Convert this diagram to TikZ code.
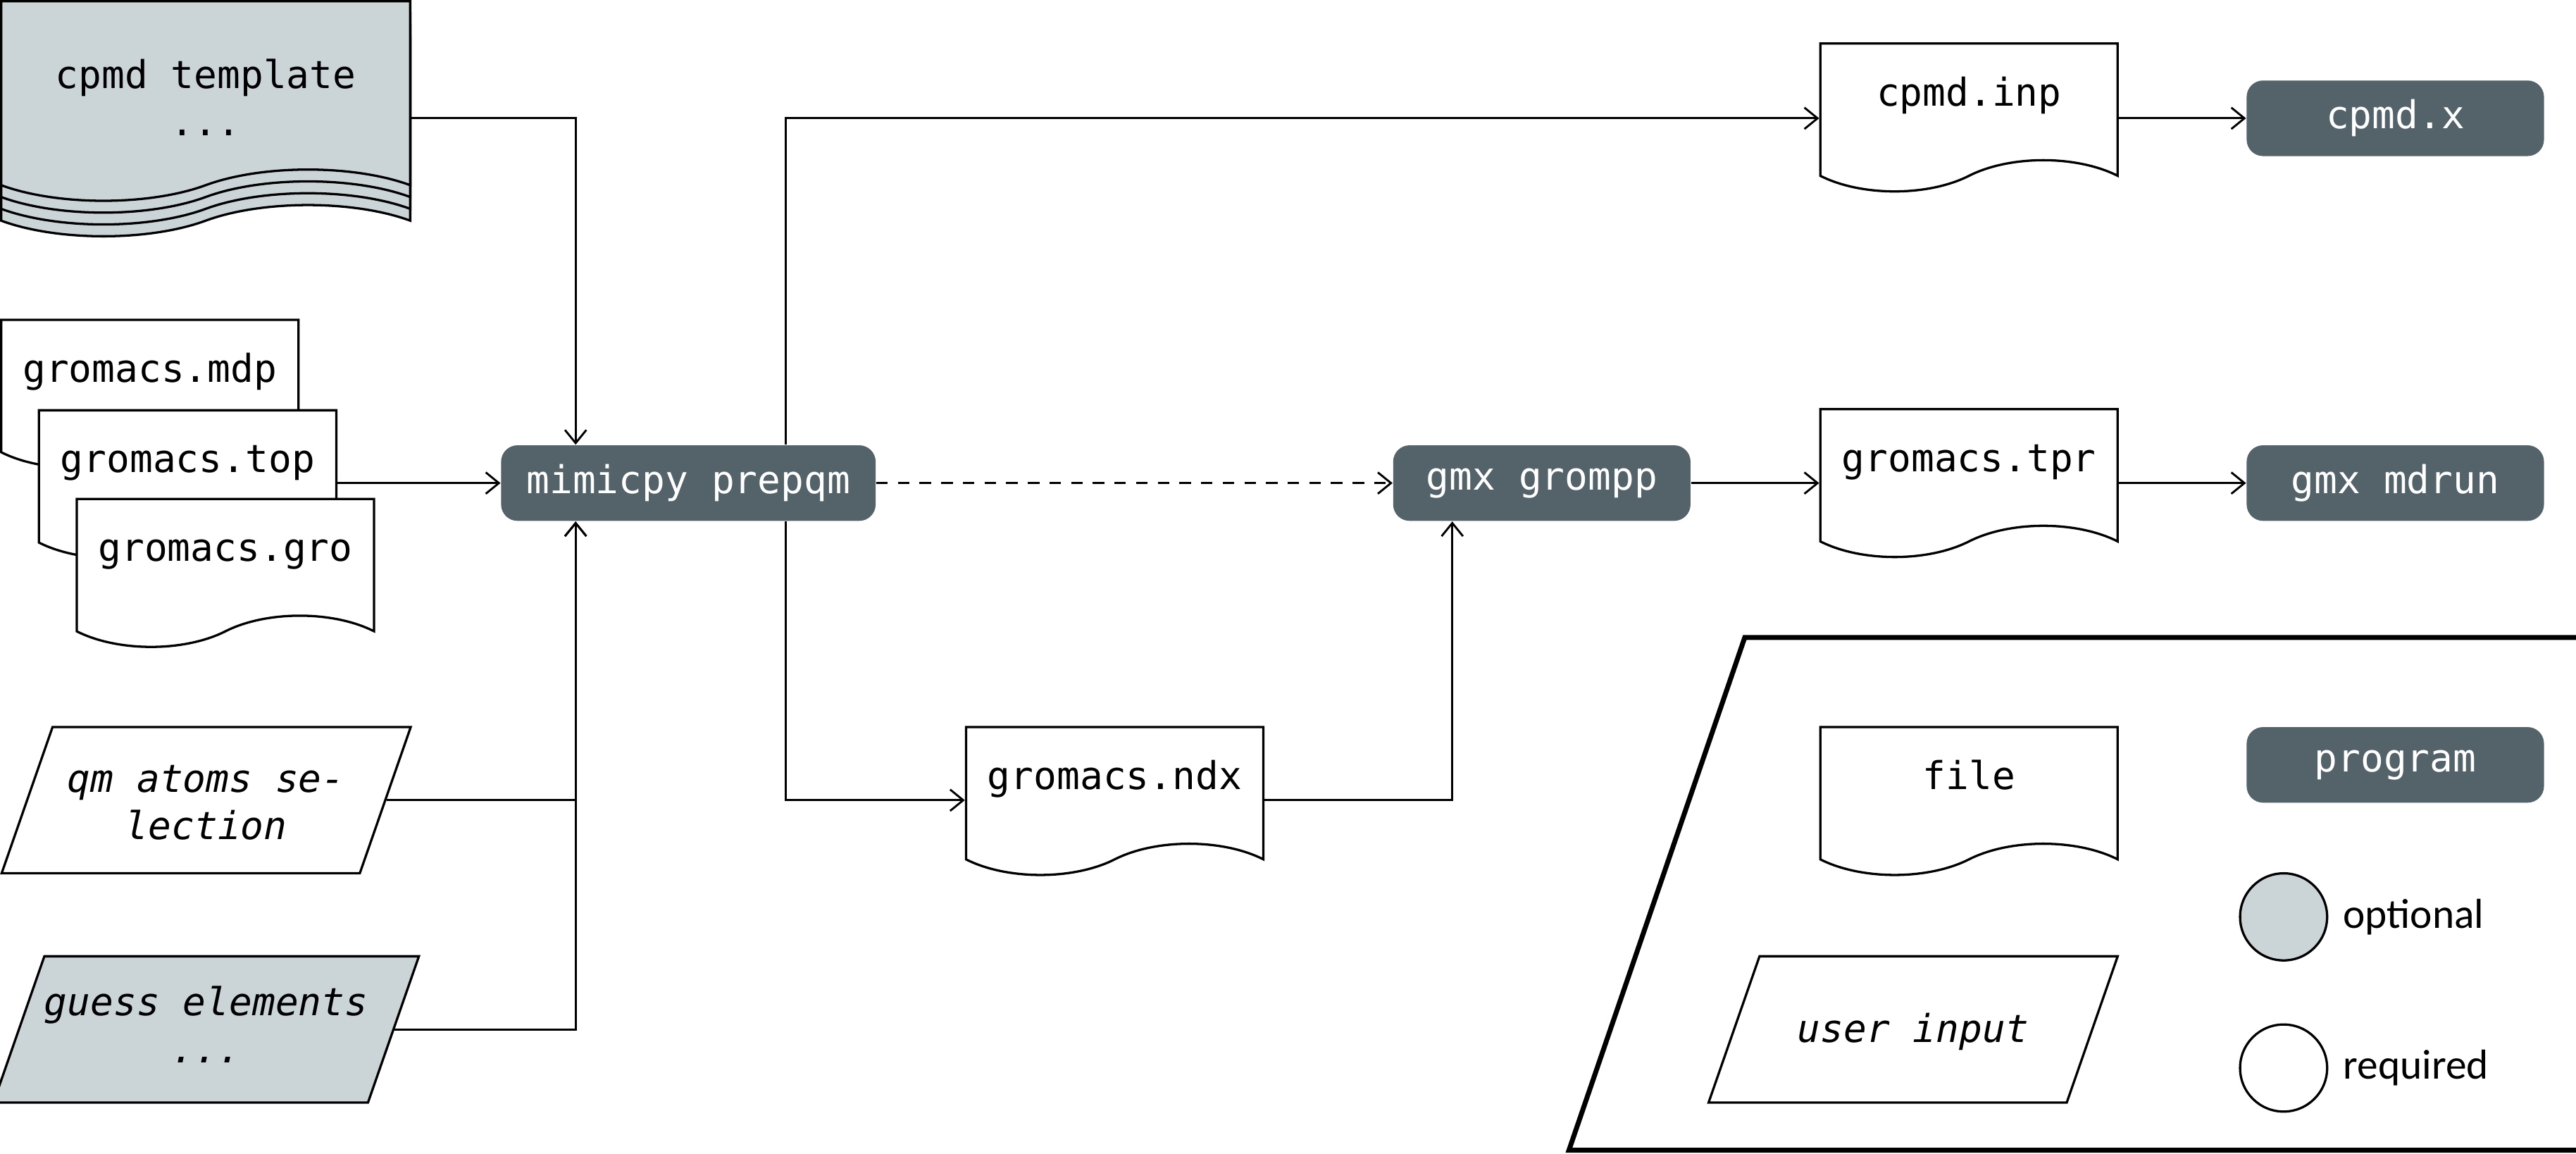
\documentclass[tikz,border=0pt]{standalone}
\usepackage{fontspec}
\setmonofont{DejaVu Sans Mono}
\newfontfamily\legendfont{Carlito}
\usetikzlibrary{arrows.meta,positioning,calc,shapes.geometric,shapes.symbols}
\definecolor{progfill}{RGB}{84,99,105}
\definecolor{optfill}{RGB}{203,212,215}
\newcommand\diagfont{\fontsize{13.3pt}{16.5pt}\selectfont\ttfamily}
\tikzset{
  sheet/.style={shape=tape, draw, line width=0.8pt, tape bend top=none, tape bend bottom=in and out, tape bend height=0.38cm, inner sep=0pt},
  doc/.style={sheet, fill=white, minimum width=3.62cm, minimum height=1.8cm, text height=0.6cm, text depth=0.5cm},
  stack/.style={sheet, fill=optfill, minimum width=4.98cm, minimum height=2.43cm, anchor=north west, align=center, text height=1.33cm, text depth=0.1cm},
  prog/.style={fill=progfill, text=white, rounded corners=0.2cm, minimum width=3.62cm, minimum height=0.92cm, inner sep=0pt},
  usr/.style={trapezium, trapezium left angle=70.8, trapezium right angle=109.2, trapezium stretches body, draw, line width=0.8pt, fill=white, minimum width=4.98cm, inner sep=0pt, text height=1.37cm, text depth=0.41cm, align=center, font=\diagfont\itshape},
  legdot/.style={circle, draw, line width=0.8pt, minimum size=1.06cm, inner sep=0pt},
  legtxt/.style={font=\legendfont\fontsize{14.5pt}{17pt}\selectfont, inner sep=1pt},
  arr/.style={-{Straight Barb[length=1.6mm, width=2.6mm]}, line width=0.7pt}}

\begin{document}
\begin{tikzpicture}[font=\diagfont]
  \useasboundingbox (0,0) rectangle (31.36,-14.04);
  % inputs
  \foreach \i/\d in {3/0.432,2/0.288,1/0.144} \node[stack] (tmpl\i) at (0,-\d) {};
  \node[stack] (tmpl) at (0,0) {cpmd template\\...};
  \node[doc, anchor=north west] (mdp) at (0,-3.88) {gromacs.mdp};
  \node[doc, anchor=north west] (top) at (0.46,-4.98) {gromacs.top};
  \node[doc, anchor=north west] (gro) at (0.92,-6.06) {gromacs.gro};
  \node[usr] (qm) at (2.51,-9.74) {qm atoms se-\\lection};
  \node[usr, fill=optfill, text height=1.3cm, text depth=0.48cm] (guess) at (2.51,-12.53) {guess elements\\...};
  % programs and outputs
  \node[prog, minimum width=4.56cm] (mimic) at (8.38,-5.88) {mimicpy prepqm};
  \node[prog] (grompp) at (18.77,-5.88) {gmx grompp};
  \node[prog] (mdrun) at (29.16,-5.88) {gmx mdrun};
  \node[prog] (cpmdx) at (29.16,-1.44) {cpmd.x};
  \node[doc] (inp) at (23.97,-1.24) {cpmd.inp};
  \node[doc] (tpr) at (23.97,-5.69) {gromacs.tpr};
  \node[doc] (ndx) at (13.57,-9.56) {gromacs.ndx};
  \coordinate (inA) at ($(mimic.north west)!0.2!(mimic.north east)$);
  \coordinate (inB) at ($(mimic.south west)!0.2!(mimic.south east)$);
  \coordinate (outA) at ($(mimic.north west)!0.76!(mimic.north east)$);
  \coordinate (outB) at ($(mimic.south west)!0.76!(mimic.south east)$);
  \coordinate (gIn) at ($(grompp.south west)!0.2!(grompp.south east)$);
  \draw[arr] (tmpl.east |- cpmdx.west) -| (inA);
  \draw[arr] (top.east |- mimic.west) -- (mimic.west);
  \draw[arr] (qm.east) -| (inB); \draw[arr] (guess.east) -| (inB);
  \draw[arr] (outA) |- (inp.west |- cpmdx.west); \draw[arr] (outB) |- (ndx.west |- qm.east);
  \draw[arr, dash pattern=on 4pt off 3.5pt] (mimic.east) -- (grompp.west);
  \draw[arr] (ndx.east |- qm.east) -| (gIn);
  \draw[arr] (grompp.east) -- (tpr.west |- grompp.east); \draw[arr] (tpr.east |- mdrun.west) -- (mdrun.west);
  \draw[arr] (inp.east |- cpmdx.west) -- (cpmdx.west);
  % legend
  \draw[line width=1.7pt] (31.6,-7.76) -- (21.24,-7.76) -- (19.1,-14.0) -- (31.6,-14.0);
  \node[doc] (file) at (23.97,-9.56) {file};
  \node[usr, text height=1.05cm, text depth=0.73cm] (user) at (23.29,-12.53) {user input};
  \node[prog] (program) at (29.16,-9.31) {program};
  \node[legdot, fill=optfill] (opt) at (27.8,-11.16) {};
  \node[legdot] (req) at (27.8,-13.0) {};
  \node[legtxt, right=0.14cm of opt] (optl) {optional};
  \node[legtxt, right=0.14cm of req] (reql) {required};
\end{tikzpicture}
\end{document}
